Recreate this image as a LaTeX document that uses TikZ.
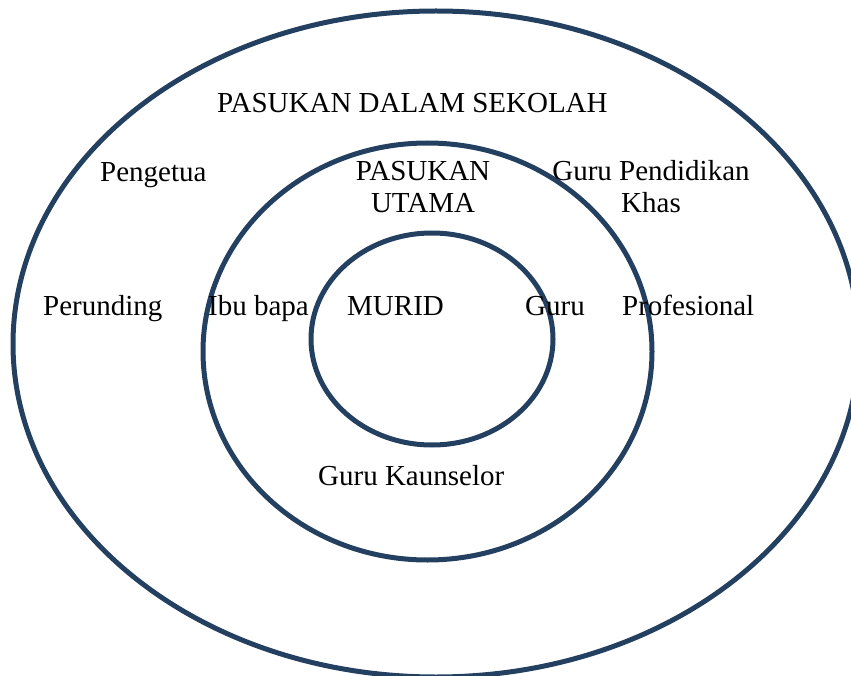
\documentclass[tikz,border=0pt]{standalone}
\usepackage{fontspec}
\setmainfont{Liberation Serif}
\usetikzlibrary{shapes.geometric}
\definecolor{ring}{HTML}{244061}
\begin{document}
\begin{tikzpicture}[x=1pt,y=-1pt,
  ringshape/.style={ellipse,draw=ring,line width=5pt,inner sep=0pt},
  lbl/.style={inner sep=0pt,anchor=base west,font=\fontsize{29}{32}\selectfont},
  lblc/.style={inner sep=0pt,anchor=base,align=center,font=\fontsize{29}{32}\selectfont}]
\useasboundingbox (0,0) rectangle (851,676);
\clip (0,0) rectangle (851,676);
\node[ringshape,minimum width=846pt,minimum height=666pt] (outer) at (436,344) {};
\node[ringshape,minimum width=449pt,minimum height=417pt] (middle) at (427.5,351.5) {};
\node[ringshape,minimum width=242pt,minimum height=212pt] (inner) at (432,339) {};
\node[lbl] (sekolah) at (217,113) {PASUKAN DALAM SEKOLAH};
\node[lbl] (pengetua) at (100,182) {Pengetua};
\node[lblc] (utama) at (423,213) {PASUKAN\\UTAMA};
\node[lblc] (khas) at (651,213) {Guru Pendidikan\\Khas};
\node[lbl] (perunding) at (43,315) {Perunding};
\node[lbl] (ibubapa) at (208,315) {Ibu bapa};
\node[lbl] (murid) at (347,315) {MURID};
\node[lbl] (guru) at (525,315) {Guru};
\node[lbl] (profesional) at (622,315) {Profesional};
\node[lbl] (kaunselor) at (318,485) {Guru Kaunselor};
\end{tikzpicture}
\end{document}
